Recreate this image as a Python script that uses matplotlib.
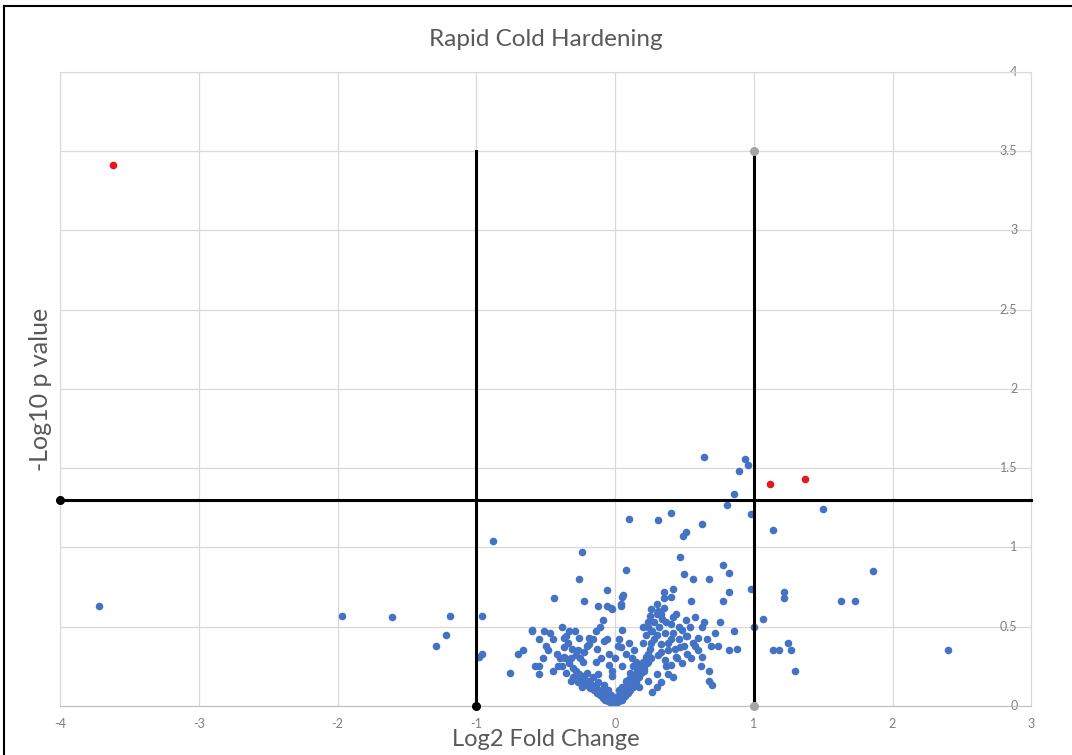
#!/usr/bin/env python3
"""Volcano plot: Rapid Cold Hardening (Excel-style scatter)."""

import matplotlib

matplotlib.use("Agg")  # headless
import matplotlib.pyplot as plt  # noqa: E402
from matplotlib.lines import Line2D  # noqa: E402

plt.rcParams["font.family"] = ["Lato", "DejaVu Sans"]

# --------------------------------------------------------------------------- #
# Data (log2 fold change, -log10 p)
# --------------------------------------------------------------------------- #

# significant genes, drawn in red
sig_points = [(-3.62, 3.41), (1.12, 1.40), (1.37, 1.43)]

# isolated genes far from the main cloud
far_points = [
    (-3.72, 0.63), (-1.97, 0.57), (-1.61, 0.56), (-1.19, 0.57), (-1.22, 0.45),
    (-1.29, 0.38), (-0.88, 1.04), (-0.96, 0.57), (-0.96, 0.33), (-0.98, 0.31),
    (2.40, 0.35), (1.86, 0.85), (1.63, 0.66), (1.73, 0.66), (1.50, 1.24),
    (1.14, 1.11), (1.22, 0.72), (1.22, 0.68), (1.07, 0.55), (1.25, 0.40),
    (1.14, 0.35), (1.18, 0.35), (1.27, 0.35), (1.30, 0.22),
]

# upper part of the cloud, just below / above the p-value threshold
upper_points = [
    (0.64, 1.57), (0.94, 1.56), (0.96, 1.52), (0.89, 1.48), (0.86, 1.34),
    (0.81, 1.27), (0.98, 1.21), (0.10, 1.18), (0.31, 1.17), (0.40, 1.22),
    (0.63, 1.15), (0.51, 1.10), (0.49, 1.07), (-0.24, 0.97), (0.47, 0.94),
    (0.78, 0.89), (0.82, 0.84), (0.08, 0.86), (-0.26, 0.80), (0.50, 0.83),
    (0.56, 0.80), (0.68, 0.80), (0.98, 0.74), (0.82, 0.72), (0.78, 0.66),
    (-0.44, 0.68), (-0.22, 0.66), (-0.06, 0.73), (0.05, 0.69), (0.06, 0.70),
    (0.35, 0.72), (0.42, 0.74), (0.35, 0.68), (0.40, 0.69), (0.55, 0.66),
]

# left side of the cloud
left_points = [
    (-0.76, 0.21), (-0.70, 0.33), (-0.66, 0.35), (-0.60, 0.48), (-0.60, 0.47),
    (-0.55, 0.42), (-0.51, 0.47), (-0.47, 0.46), (-0.50, 0.38), (-0.55, 0.25),
    (-0.55, 0.20), (-0.45, 0.22), (-0.41, 0.25), (-0.37, 0.43), (-0.35, 0.44),
    (-0.29, 0.47), (-0.37, 0.37), (-0.19, 0.43), (-0.19, 0.39), (-0.08, 0.41),
    (-0.14, 0.28), (-0.04, 0.26), (-0.02, 0.19), (-0.37, 0.31), (-0.32, 0.30),
    (-0.27, 0.35), (-0.23, 0.28), (-0.12, 0.63), (-0.06, 0.63), (-0.03, 0.62),
    (-0.09, 0.54), (0.04, 0.63), (-0.02, 0.61), (0.04, 0.64), (-0.06, 0.42),
    (-0.04, 0.33), (-0.45, 0.42), (-0.42, 0.33), (-0.40, 0.30), (-0.34, 0.40),
    (-0.31, 0.36), (-0.28, 0.32), (-0.25, 0.30), (-0.22, 0.34), (-0.20, 0.38),
    (-0.16, 0.42), (-0.13, 0.36), (-0.10, 0.30), (-0.14, 0.47), (-0.11, 0.50),
    (-0.26, 0.43), (-0.33, 0.47), (-0.38, 0.50), (-0.48, 0.35), (-0.52, 0.30),
    (-0.58, 0.25),
]

# right side of the cloud
right_points = [
    (0.26, 0.61), (0.31, 0.60), (0.33, 0.58), (0.25, 0.57), (0.42, 0.56),
    (0.58, 0.56), (0.64, 0.53), (0.76, 0.53), (0.86, 0.47), (1.00, 0.50),
    (0.20, 0.50), (0.24, 0.50), (0.27, 0.47), (0.37, 0.53), (0.46, 0.50),
    (0.51, 0.54), (0.63, 0.50), (0.60, 0.43), (0.51, 0.44), (0.40, 0.42),
    (0.26, 0.40), (0.33, 0.39), (0.58, 0.38), (0.63, 0.31), (0.69, 0.38),
    (0.74, 0.38), (0.82, 0.35), (0.88, 0.36), (0.62, 0.25), (0.68, 0.22),
    (0.68, 0.16), (0.70, 0.13), (0.47, 0.37), (0.52, 0.33), (0.44, 0.31),
    (0.38, 0.35), (0.31, 0.32), (0.37, 0.25), (0.30, 0.20), (0.24, 0.16),
    (0.15, 0.28), (0.14, 0.35), (0.03, 0.42), (0.04, 0.37), (0.17, 0.20),
    (0.17, 0.12), (0.10, 0.17), (0.21, 0.22), (0.24, 0.28), (0.25, 0.36),
    (0.28, 0.42), (0.30, 0.45), (0.32, 0.50), (0.34, 0.55), (0.30, 0.58),
    (0.28, 0.53), (0.22, 0.45), (0.20, 0.40), (0.36, 0.46), (0.38, 0.40),
    (0.40, 0.52), (0.42, 0.46), (0.44, 0.58), (0.46, 0.42), (0.48, 0.48),
    (0.50, 0.38), (0.52, 0.44), (0.54, 0.50), (0.56, 0.40), (0.35, 0.62),
    (0.30, 0.64), (0.26, 0.47), (0.24, 0.53), (0.33, 0.34), (0.36, 0.29),
    (0.40, 0.26), (0.43, 0.36), (0.45, 0.30), (0.48, 0.27), (0.38, 0.20),
    (0.33, 0.15), (0.30, 0.12), (0.27, 0.09), (0.42, 0.18), (0.55, 0.30),
    (0.60, 0.35), (0.66, 0.42), (0.72, 0.46), (0.00, 0.30), (0.02, 0.38),
    (0.05, 0.25), (0.08, 0.33), (0.10, 0.40), (0.12, 0.30), (-0.02, 0.22),
    (0.05, 0.48),
]

# dense V at the bottom of the cloud
v_points = [
    (-0.33, 0.27), (-0.30, 0.24), (-0.28, 0.22), (-0.26, 0.20), (-0.25, 0.17),
    (-0.23, 0.15), (-0.22, 0.19), (-0.20, 0.13), (-0.19, 0.16), (-0.18, 0.11),
    (-0.17, 0.14), (-0.15, 0.10), (-0.14, 0.12), (-0.13, 0.08), (-0.12, 0.15),
    (-0.11, 0.07), (-0.10, 0.10), (-0.09, 0.05), (-0.08, 0.08), (-0.07, 0.04),
    (-0.06, 0.06), (-0.05, 0.03), (-0.04, 0.05), (-0.03, 0.02), (-0.02, 0.04),
    (-0.01, 0.01), (0.00, 0.03), (0.01, 0.02), (-0.30, 0.18), (-0.27, 0.15),
    (-0.24, 0.12), (-0.35, 0.21), (-0.32, 0.16), (-0.20, 0.21), (-0.16, 0.18),
    (-0.12, 0.20), (-0.08, 0.13), (-0.05, 0.10), (-0.03, 0.07), (-0.38, 0.25),
    (-0.36, 0.30), (0.02, 0.05), (0.03, 0.03), (0.04, 0.07), (0.05, 0.04),
    (0.06, 0.09), (0.07, 0.06), (0.08, 0.11), (0.09, 0.08), (0.10, 0.13),
    (0.11, 0.10), (0.12, 0.16), (0.13, 0.12), (0.14, 0.19), (0.15, 0.15),
    (0.16, 0.22), (0.17, 0.18), (0.18, 0.25), (0.19, 0.21), (0.20, 0.28),
    (0.21, 0.24), (0.22, 0.31), (0.23, 0.27), (0.24, 0.33), (0.26, 0.30),
    (0.05, 0.12), (0.08, 0.16), (0.11, 0.21), (0.13, 0.25), (0.03, 0.10),
    (0.09, 0.09), (0.02, 0.06), (0.00, 0.01),
]

x_ticks = [-4, -3, -2, -1, 0, 1, 2, 3]
y_ticks = [0, 0.5, 1, 1.5, 2, 2.5, 3, 3.5, 4]
y_tick_labels = ["0", "0.5", "1", "1.5", "2", "2.5", "3", "3.5", "4"]

# thresholds: |log2 FC| = 1, -log10 p = 1.3 (p = 0.05)
fc_cut = 1.0
p_cut = 1.3
line_top = 3.5

BLUE = "#4472c4"
RED = "#e8161b"
GRID = "#d9d9d9"
TEXT = "#595959"


def main() -> None:
    fig = plt.figure(figsize=(10.72, 7.55), dpi=100)
    ax = fig.add_axes([0.056, 0.065, 0.906, 0.8397])

    blue = far_points + upper_points + left_points + right_points + v_points
    ax.scatter([p[0] for p in blue], [p[1] for p in blue], s=30, color=BLUE,
               linewidths=0, zorder=2)
    ax.scatter([p[0] for p in sig_points], [p[1] for p in sig_points], s=30,
               color=RED, linewidths=0, zorder=4)

    # threshold lines
    ax.plot([-fc_cut, -fc_cut], [0, line_top], color="black", lw=2.2, zorder=3)
    ax.plot([-fc_cut], [0], "o", color="black", ms=5.5, zorder=3, clip_on=False)
    ax.plot([fc_cut, fc_cut], [0, line_top], color="black", lw=2.2, zorder=3)
    ax.plot([fc_cut, fc_cut], [0, line_top], "o", color="#a5a5a5", ms=5.5,
            zorder=3, clip_on=False)
    ax.plot([-4, 3], [p_cut, p_cut], color="black", lw=2.2, zorder=3,
            clip_on=False)
    ax.plot([-4], [p_cut], "o", color="black", ms=5.5, zorder=3, clip_on=False)

    ax.set_xlim(-4, 3)
    ax.set_ylim(0, 4)
    ax.set_xticks(x_ticks)
    ax.set_xticklabels([str(v) for v in x_ticks])
    ax.set_yticks(y_ticks)
    ax.set_yticklabels([])
    ax.tick_params(axis="both", length=0, labelsize=9, labelcolor="#7f7f7f")
    ax.tick_params(axis="x", pad=9)
    ax.grid(True, color=GRID, lw=0.9)
    ax.set_axisbelow(True)
    for side in ("top", "right", "left"):
        ax.spines[side].set_color(GRID)
    ax.spines["bottom"].set_color("#bfbfbf")

    # Excel put the value labels inside the right edge, over the gridlines
    for v, lab in zip(y_ticks, y_tick_labels):
        ax.text(2.9, v, lab, ha="right", va="center", fontsize=9,
                color="#7f7f7f", zorder=1)

    ax.set_title("Rapid Cold Hardening", fontsize=17.5, color=TEXT, pad=19)
    ax.set_xlabel("Log2 Fold Change", fontsize=17, color=TEXT, labelpad=-1)
    ax.set_ylabel("-Log10 p value", fontsize=18, color=TEXT, labelpad=2)

    # screenshot border on left and top
    top = 1 - 6 / 755
    left = 4 / 1072
    fig.add_artist(Line2D([left, left], [0, top], color="black", lw=1.5))
    fig.add_artist(Line2D([left, 1], [top, top], color="black", lw=1.5))

    fig.savefig("out.png", dpi=100)
    plt.close(fig)


if __name__ == "__main__":
    main()
